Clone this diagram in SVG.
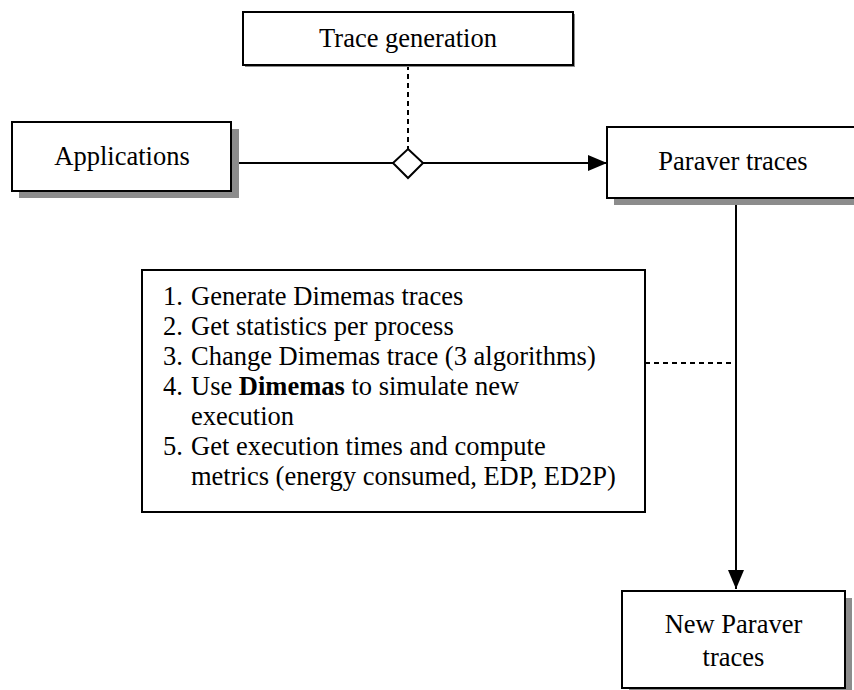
<svg xmlns="http://www.w3.org/2000/svg" width="854" height="690" viewBox="0 0 854 690">
<style>
.box{fill:#fff;stroke:#000;stroke-width:2}
.shadow{fill:#8c8c8c}
.t{font-family:"Liberation Serif","Times New Roman",serif;font-size:26.5px;fill:#000}
.c{text-anchor:middle}
.line{stroke:#000;stroke-width:2;fill:none}
.dash{stroke:#000;stroke-width:2;fill:none;stroke-dasharray:5 4}
</style>
<defs>
<marker id="arrow" markerWidth="20" markerHeight="16" refX="19" refY="8" orient="auto" markerUnits="userSpaceOnUse">
<path d="M0,0 L19,8 L0,16 Z" fill="#000"/>
</marker>
</defs>
<rect width="854" height="690" fill="#fff"/>
<g id="connectors">
<line class="dash" x1="408" y1="65" x2="408" y2="149"/>
<line class="line" x1="231" y1="163" x2="393" y2="163"/>
<line class="line" x1="423" y1="163" x2="607" y2="163" marker-end="url(#arrow)"/>
<polygon points="408,149 423,163 408,178 393,163" fill="#fff" stroke="#000" stroke-width="2"/>
<line class="line" x1="736" y1="198" x2="736" y2="589" marker-end="url(#arrow)"/>
<line class="dash" x1="645" y1="363" x2="736" y2="363"/>
</g>
<g id="trace-generation">
<rect class="shadow" x="245" y="14" width="330" height="53"/>
<rect class="box" x="243" y="12" width="330" height="53"/>
<text class="t c" x="408" y="47">Trace generation</text>
</g>
<g id="applications">
<rect class="shadow" x="19" y="129" width="220" height="69"/>
<rect class="box" x="12" y="122" width="219" height="69"/>
<text class="t c" x="122" y="165">Applications</text>
</g>
<g id="paraver-traces">
<rect class="shadow" x="614" y="134" width="252" height="71"/>
<rect class="box" x="607" y="127" width="252" height="71"/>
<text class="t c" x="733" y="170">Paraver traces</text>
</g>
<g id="steps">
<rect class="box" x="142" y="270" width="503" height="242"/>
<text class="t" x="163" y="305">1.</text>
<text class="t" x="191" y="305">Generate Dimemas traces</text>
<text class="t" x="163" y="335">2.</text>
<text class="t" x="191" y="335">Get statistics per process</text>
<text class="t" x="163" y="365">3.</text>
<text class="t" x="191" y="365">Change Dimemas trace (3 algorithms)</text>
<text class="t" x="163" y="395">4.</text>
<text class="t" x="191" y="395">Use <tspan font-weight="bold">Dimemas</tspan> to simulate new</text>
<text class="t" x="191" y="425">execution</text>
<text class="t" x="163" y="455">5.</text>
<text class="t" x="191" y="455">Get execution times and compute</text>
<text class="t" x="191" y="485">metrics (energy consumed, EDP, ED2P)</text>
</g>
<g id="new-paraver-traces">
<rect class="shadow" x="629" y="598" width="223" height="97"/>
<rect class="box" x="622" y="591" width="223" height="97"/>
<text class="t c" x="733.5" y="633">New Paraver</text>
<text class="t c" x="733.5" y="666">traces</text>
</g>
</svg>
